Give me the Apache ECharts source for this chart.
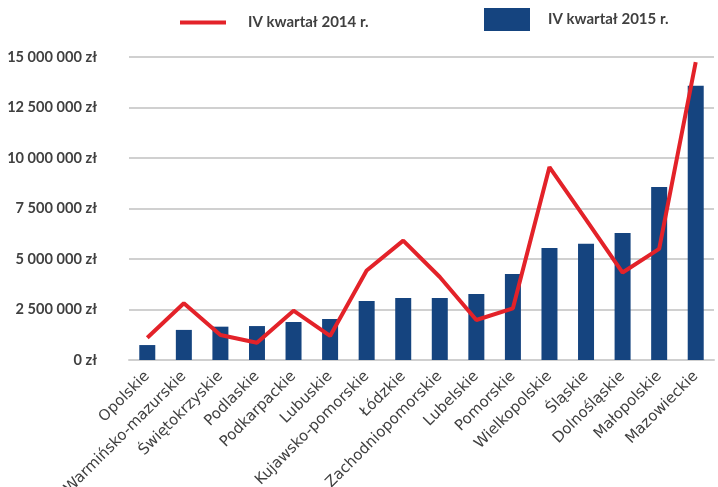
<!DOCTYPE html>
<html>
<head>
<meta charset="utf-8">
<script src="https://cdn.jsdelivr.net/npm/echarts@6/dist/echarts.min.js"></script>
<style>
  html, body { margin: 0; padding: 0; background: #fff; }
  #chart { width: 718px; height: 487px; }
</style>
</head>
<body>
<div id="chart"></div>
<script>
// wojewodztwa
const regions = [
  'Opolskie', 'Warmińsko-mazurskie', 'Świętokrzyskie', 'Podlaskie', 'Podkarpackie',
  'Lubuskie', 'Kujawsko-pomorskie', 'Łódzkie', 'Zachodniopomorskie', 'Lubelskie',
  'Pomorskie', 'Wielkopolskie', 'Śląskie', 'Dolnośląskie', 'Małopolskie', 'Mazowieckie'
]
const q4_2014 = [
  1100000, 2810000, 1240000, 850000, 2440000,
  1190000, 4430000, 5910000, 4110000, 1980000,
  2560000, 9550000, 6950000, 4330000, 5500000, 14750000
]
const q4_2015 = [
  740000, 1490000, 1650000, 1680000, 1880000,
  2030000, 2920000, 3070000, 3070000, 3270000,
  4260000, 5550000, 5750000, 6290000, 8570000, 13580000
]

const fmtZl = (v) => String(v).replace(/\B(?=(\d{3})+(?!\d))/g, ' ') + ' zł'

const chart = echarts.init(document.getElementById('chart'))

const legendText = { color: '#404040', fontSize: 15, fontWeight: 'bold', fontFamily: 'Lato' }

chart.setOption({
  animation: false,
  legend: [
    {
      data: [{ name: 'IV kwartał 2014 r.', icon: 'rect' }],
      left: 175,
      top: 10,
      itemWidth: 46,
      itemHeight: 4,
      textStyle: { ...legendText, padding: [0, 0, 0, 17] }
    },
    {
      data: [{ name: 'IV kwartał 2015 r.', icon: 'rect' }],
      left: 479,
      top: 3,
      itemWidth: 46,
      itemHeight: 23,
      textStyle: { ...legendText, padding: [0, 0, 0, 13] }
    }
  ],
  grid: {
    left: 129,
    right: 4,
    top: 57,
    bottom: 127,
    containLabel: false,
    outerBoundsMode: 'none'
  },
  xAxis: {
    type: 'category',
    data: regions,
    axisLine: { lineStyle: { color: '#cfcfcf', width: 2 } },
    axisTick: { show: false },
    axisLabel: {
      rotate: 45,
      interval: 0,
      margin: 14,
      color: '#404040',
      fontSize: 15,
      fontFamily: 'DejaVu Sans'
    }
  },
  yAxis: {
    type: 'value',
    min: 0,
    max: 15000000,
    interval: 2500000,
    axisLine: { show: false },
    axisTick: { show: false },
    splitLine: { lineStyle: { color: '#d0d0d0', width: 2 } },
    axisLabel: {
      margin: 32,
      color: '#404040',
      fontSize: 14.6,
      fontWeight: 'bold',
      fontFamily: 'Lato',
      formatter: fmtZl
    }
  },
  series: [
    {
      name: 'IV kwartał 2015 r.',
      type: 'bar',
      data: q4_2015,
      barWidth: 16,
      itemStyle: { color: '#15447f' }
    },
    {
      name: 'IV kwartał 2014 r.',
      type: 'line',
      data: q4_2014,
      symbol: 'none',
      z: 3,
      lineStyle: { color: '#e32229', width: 4 },
      itemStyle: { color: '#e32229' }
    }
  ]
})
</script>
</body>
</html>
